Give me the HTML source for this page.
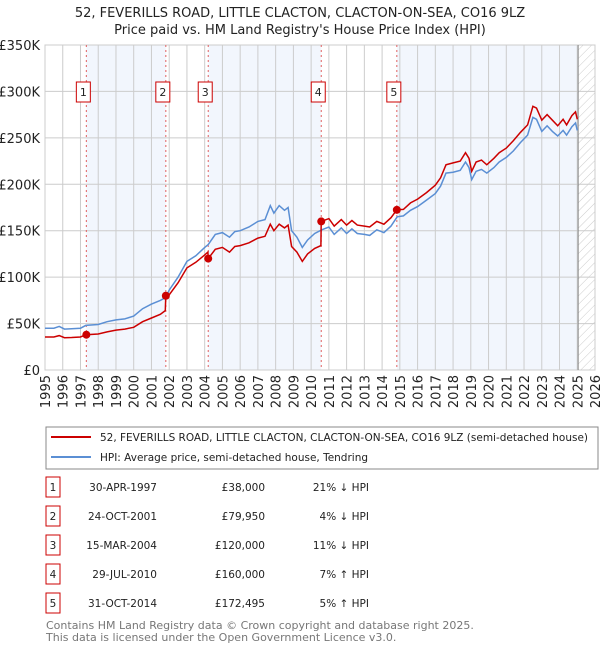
<!DOCTYPE html>
<html><head><meta charset="utf-8"><style>
body{margin:0;background:#fff;font-family:"Liberation Sans","DejaVu Sans",sans-serif;}
svg text{font-family:"DejaVu Sans","Liberation Sans",sans-serif;}
</style></head><body>
<svg id="c" width="600" height="650" viewBox="0 0 600 650" xmlns="http://www.w3.org/2000/svg">
<defs><pattern id="hatch" width="6" height="6" patternUnits="userSpaceOnUse" patternTransform="rotate(45)"><line x1="0" y1="0" x2="0" y2="6" stroke="#ccc" stroke-width="1"/></pattern></defs>
<text x="300" y="17" text-anchor="middle" font-size="13" fill="#222">52, FEVERILLS ROAD, LITTLE CLACTON, CLACTON-ON-SEA, CO16 9LZ</text>
<text x="300" y="34" text-anchor="middle" font-size="13" fill="#222">Price paid vs. HM Land Registry's House Price Index (HPI)</text>
<g id="plot"></g>
<rect x="46" y="427" width="552" height="42" fill="#fff" stroke="#888"/>
<line x1="51" y1="437" x2="91" y2="437" stroke="#cc0000" stroke-width="2"/>
<text x="100" y="441" font-size="11" textLength="488" lengthAdjust="spacingAndGlyphs" fill="#222">52, FEVERILLS ROAD, LITTLE CLACTON, CLACTON-ON-SEA, CO16 9LZ (semi-detached house)</text>
<line x1="51" y1="457" x2="91" y2="457" stroke="#5b8fd4" stroke-width="2"/>
<text x="100" y="461" font-size="11" textLength="268" lengthAdjust="spacingAndGlyphs" fill="#222">HPI: Average price, semi-detached house, Tendring</text>
<g id="table"></g>
<text x="46" y="629" font-size="11" fill="#777">Contains HM Land Registry data © Crown copyright and database right 2025.</text>
<text x="46" y="641" font-size="11" fill="#777">This data is licensed under the Open Government Licence v3.0.</text>
</svg>
<script>
const hpiYears=[1995.0,1995.5,1995.8,1996.1,1996.5,1997.0,1997.3,1998.0,1998.5,1999.0,1999.5,2000.0,2000.5,2001.0,2001.5,2001.8,2002.0,2002.5,2003.0,2003.5,2004.0,2004.2,2004.6,2005.0,2005.4,2005.7,2006.0,2006.5,2007.0,2007.4,2007.7,2007.9,2008.2,2008.5,2008.7,2008.9,2009.2,2009.5,2009.8,2010.2,2010.6,2011.0,2011.3,2011.7,2012.0,2012.3,2012.6,2013.0,2013.3,2013.7,2014.1,2014.5,2014.85,2015.2,2015.6,2016.0,2016.5,2017.0,2017.3,2017.6,2018.0,2018.4,2018.7,2018.9,2019.05,2019.3,2019.6,2019.9,2020.3,2020.6,2021.0,2021.4,2021.8,2022.2,2022.5,2022.7,2023.0,2023.3,2023.6,2023.9,2024.2,2024.4,2024.7,2024.9,2025.0];
const hpiValues=[45,45,47,44,44.5,45,48,49,52,54,55,58,66,71,75,78,86,100,117,123,132,135,146,148,143,149,150,154,160,162,177,169,177,172,175,150,143,132,140,147,151,154,146,153,147,152,147,146,145,151,148,155,165,166,172,176,183,190,198,212,213,215,224,218,205,214,216,212,218,224,229,236,245,253,272,270,257,263,257,252,258,253,262,266,258];
const priceYears=[1995.0,1995.5,1995.8,1996.1,1996.5,1997.0,1997.3,1998.0,1998.5,1999.0,1999.5,2000.0,2000.5,2001.0,2001.5,2001.78,2001.81,2002.0,2002.5,2003.0,2003.5,2004.0,2004.18,2004.2,2004.6,2005.0,2005.4,2005.7,2006.0,2006.5,2007.0,2007.4,2007.7,2007.9,2008.2,2008.5,2008.7,2008.9,2009.2,2009.5,2009.8,2010.2,2010.55,2010.57,2011.0,2011.3,2011.7,2012.0,2012.3,2012.6,2013.0,2013.3,2013.7,2014.1,2014.5,2014.83,2015.2,2015.6,2016.0,2016.5,2017.0,2017.3,2017.6,2018.0,2018.4,2018.7,2018.9,2019.05,2019.3,2019.6,2019.9,2020.3,2020.6,2021.0,2021.4,2021.8,2022.2,2022.5,2022.7,2023.0,2023.3,2023.6,2023.9,2024.2,2024.4,2024.7,2024.9,2025.0];
const priceValues=[35.5,35.5,37,34.8,35,35.5,38,38.8,41,43,44,46,52,56,60,64,80,81,94,110,116,124,127,120,130,132,127,133,134,137,142,144,157,150,157,153,156,133,127,117,125,131,134,160,163,155,162,156,161,156,155,154,160,157,164,172.5,173,180,184,191,199,207,221,223,225,234,228,214,224,226,221,228,234,239,247,256,264,284,282,269,275,269,263,270,264,274,278,270];
const saleYears=[1997.33,2001.81,2004.2,2010.57,2014.83];
const salePrices=[38000,79950,120000,160000,172495];
const saleDates=["30-APR-1997","24-OCT-2001","15-MAR-2004","29-JUL-2010","31-OCT-2014"];
const salePriceLabels=["£38,000","£79,950","£120,000","£160,000","£172,495"];
const saleHpiLabels=["21% ↓ HPI","4% ↓ HPI","11% ↓ HPI","7% ↑ HPI","5% ↑ HPI"];
const yTicks=[0,50000,100000,150000,200000,250000,300000,350000];
const yTickLabels=["£0","£50K","£100K","£150K","£200K","£250K","£300K","£350K"];
const xTicks=[1995,1996,1997,1998,1999,2000,2001,2002,2003,2004,2005,2006,2007,2008,2009,2010,2011,2012,2013,2014,2015,2016,2017,2018,2019,2020,2021,2022,2023,2024,2025,2026];
const dataEndYear=2025.05;

const L=45,R=595,T=45,B=370,X0=1995,X1=2026,YMAX=350000;
const sx=y=>L+(y-X0)/(X1-X0)*(R-L);
const sy=v=>B-v/YMAX*(B-T);
const NS="http://www.w3.org/2000/svg";
const plot=document.getElementById('plot');
function mk(tag,attrs,parent){const e=document.createElementNS(NS,tag);for(const k in attrs)e.setAttribute(k,attrs[k]);(parent||plot).appendChild(e);return e;}

for(let i=0;i<saleYears.length;i+=2){
  const x0=sx(saleYears[i]);const x1=i+1<saleYears.length?sx(saleYears[i+1]):sx(dataEndYear);
  const b=mk('rect',{x:x0,y:T,width:x1-x0,height:B-T,fill:'#f2f6fd'});
  
  
}
const h=mk('rect',{x:sx(dataEndYear),y:T,width:R-sx(dataEndYear),height:B-T,fill:'url(#hatch)'});


yTicks.forEach((v,i)=>{
  const g=mk('line',{x1:L,x2:R,y1:sy(v),y2:sy(v),stroke:'#ccc','stroke-width':1});
  
  
  const t=mk('text',{x:L-5,y:sy(v)+5,'text-anchor':'end','font-size':13,fill:'#222'});t.textContent=yTickLabels[i];
  
  
});
xTicks.forEach(y=>{
  const g=mk('line',{x1:sx(y),x2:sx(y),y1:T,y2:B,stroke:'#ccc','stroke-width':1});
  
  
  const t=mk('text',{x:0,y:0,'font-size':13,fill:'#222','text-anchor':'end',transform:`translate(${sx(y)+5},${B+5}) rotate(-90)`});t.textContent=y;
  
  
});
const ax=mk('rect',{x:L,y:T,width:R-L,height:B-T,fill:'none',stroke:'#ccc'});


const el=mk('line',{x1:sx(dataEndYear),x2:sx(dataEndYear),y1:T,y2:B,stroke:'#888','stroke-width':1});


saleYears.forEach((y,i)=>{
  const l=mk('line',{x1:sx(y),x2:sx(y),y1:T,y2:B,stroke:'#e06060','stroke-width':1,'stroke-dasharray':'2,3'});
  
  
  const r=mk('rect',{x:sx(y)-10,y:82,width:14,height:20,fill:'#fff',stroke:'#cc0000'});
  
  
  const t=mk('text',{x:sx(y)-3,y:96,'text-anchor':'middle','font-size':11,fill:'#222'});t.textContent=i+1;
  
  
});
function path(xs,vs,mult){return xs.map((y,i)=>(i?'L':'M')+sx(y).toFixed(1)+','+sy(vs[i]*mult).toFixed(1)).join('');}
const hp=mk('path',{d:path(hpiYears,hpiValues,1000),fill:'none',stroke:'#5b8fd4','stroke-width':1.5});


const pp=mk('path',{d:path(priceYears,priceValues,1000),fill:'none',stroke:'#cc0000','stroke-width':1.5});


saleYears.forEach((y,i)=>{
  const c=mk('circle',{cx:sx(y),cy:sy(salePrices[i]),r:4,fill:'#cc0000'});
  
  
});
const tb=document.getElementById('table');
saleYears.forEach((y,i)=>{
  const cy=487+i*29;
  const r=mk('rect',{x:46,y:cy-10,width:14,height:20,fill:'#fff',stroke:'#cc0000'},tb);
  
  
  const cells=[[53,'middle',String(i+1),'table-row-number'],[157,'end',saleDates[i],'table-row-date'],[265,'end',salePriceLabels[i],'table-row-price'],[369,'end',saleHpiLabels[i],'table-row-hpi-diff']];
  cells.forEach(c=>{
    const t=mk('text',{x:c[0],y:cy+4,'text-anchor':c[1],'font-size':10.5,fill:'#222'},tb);t.textContent=c[2];
    
    
  });
});
</script>
</body></html>
